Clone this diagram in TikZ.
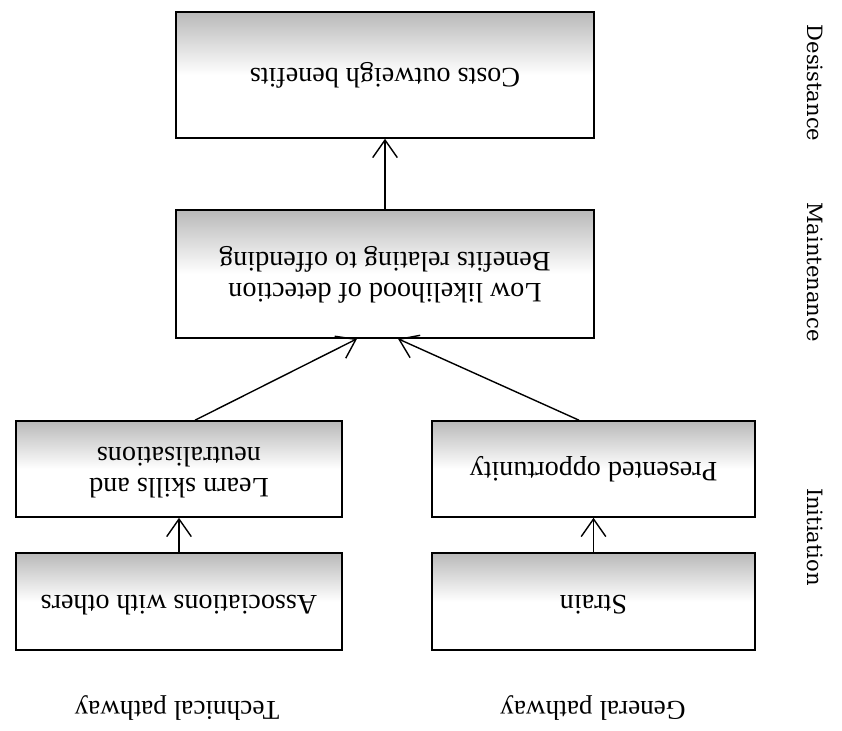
\documentclass[tikz,border=0pt]{standalone}
\usepackage{fontspec}
\setmainfont{Liberation Serif}
\newfontfamily\phasefont{DejaVu Serif}
\usepackage{graphicx}
\usetikzlibrary{arrows.meta}

\newcommand{\flip}[1]{\rotatebox[origin=c]{180}{\begin{tabular}{@{}c@{}}#1\end{tabular}}}

\tikzset{
	stagebox/.style={draw, line width=0.9pt, inner sep=0pt,
		top color=gray!55, bottom color=white, middle color=white,
		font=\fontsize{16}{17.6}\selectfont},
	link/.style={line width=0.8pt, -{Straight Barb[length=10pt,width=14pt]}},
	phase/.style={font=\phasefont\fontsize{12}{14}\selectfont, rotate=-90},
	pathlabel/.style={font=\fontsize{15.5}{17}\selectfont, rotate=180},
}

\begin{document}
\begin{tikzpicture}
		\useasboundingbox (0,0) rectangle (16.84,14.6);
		\node[stagebox, minimum width=8.36cm, minimum height=2.52cm] (costs) at (7.70,13.10) {\flip{Costs outweigh benefits}};
		\node[stagebox, minimum width=8.36cm, minimum height=2.56cm] (detect) at (7.70,9.12) {\flip{Low likelihood of detection\\Benefits relating to offending}};
		\node[stagebox, minimum width=6.52cm, minimum height=1.92cm] (learn) at (3.58,5.22) {\flip{Learn skills and\\neutralisations}};
		\node[stagebox, minimum width=6.52cm, minimum height=1.94cm] (assoc) at (3.58,2.57) {\flip{Associations with others}};
		\node[stagebox, minimum width=6.46cm, minimum height=1.92cm] (oppty) at (11.87,5.22) {\flip{Presented opportunity}};
		\node[stagebox, minimum width=6.46cm, minimum height=1.94cm] (strain) at (11.87,2.57) {\flip{Strain}};
		\draw[link] (assoc) -- (learn);
		\draw[link] (strain) -- (oppty);
		\draw[link] (detect) -- (costs);
		\draw[link] ([xshift=0.32cm]learn.north) -- ([xshift=-0.56cm]detect.south);
		\draw[link] ([xshift=-0.29cm]oppty.north) -- ([xshift=0.26cm]detect.south);
		\node[pathlabel] (tech) at (3.54,0.44) {Technical pathway};
		\node[pathlabel] (general) at (11.86,0.44) {General pathway};
		\node[phase] (desist) at (16.3,12.94) {Desistance};
		\node[phase] (maint) at (16.3,9.16) {Maintenance};
		\node[phase] (init) at (16.3,3.86) {Initiation};
	\end{tikzpicture}
\end{document}
